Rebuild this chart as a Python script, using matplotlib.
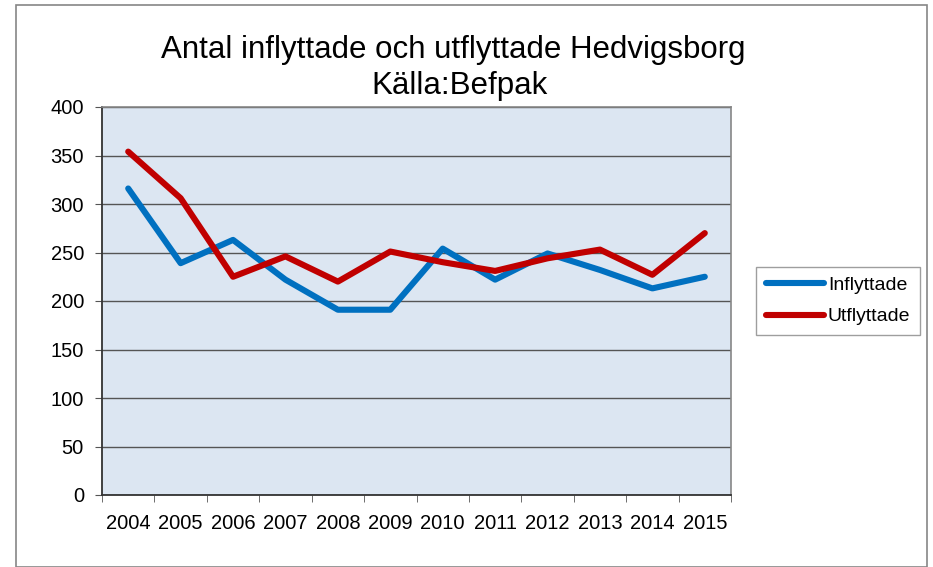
import matplotlib
matplotlib.use("Agg")
import matplotlib.pyplot as plt
from matplotlib.patches import Rectangle
import numpy as np

years = ["2004", "2005", "2006", "2007", "2008", "2009", "2010", "2011", "2012", "2013", "2014", "2015"]
inflyttade = [316, 239, 263, 222, 191, 191, 254, 222, 249, 232, 213, 225]
utflyttade = [354, 306, 225, 246, 220, 251, 240, 231, 244, 253, 227, 270]

plt.rcParams['font.family'] = ['Liberation Sans', 'DejaVu Sans']

fig = plt.figure(figsize=(9.33, 5.67), dpi=100)
fig.patch.set_facecolor('white')
fig.patches.append(Rectangle((16/933, 0), (927-16)/933, (567-5)/567, transform=fig.transFigure,
                             fill=False, edgecolor='#868686', linewidth=1.2))

ax = fig.add_axes([102/933, 72/567, 629/933, 388/567])
ax.set_facecolor('#DCE6F2')
x = np.arange(len(years))
ax.plot(x, inflyttade, color='#0070C0', linewidth=4.4, solid_capstyle='round', label='Inflyttade', zorder=3)
ax.plot(x, utflyttade, color='#C00000', linewidth=4.4, solid_capstyle='round', label='Utflyttade', zorder=3)

ax.set_xlim(-0.5, len(years) - 0.5)
ax.set_ylim(0, 400)
ax.set_yticks(range(0, 401, 50))
ax.yaxis.grid(True, color='#555555', linewidth=1.0)
ax.set_axisbelow(True)
ax.set_xticks(x)
ax.set_xticklabels(years, fontsize=14.5)
ax.tick_params(axis='x', length=0, pad=14)
ax.set_xticks(np.arange(-0.5, len(years), 1), minor=True)
ax.tick_params(axis='x', which='minor', length=5, direction='out', color='#555555')
ax.tick_params(axis='y', labelsize=14.5, length=5, direction='out', color='#555555', pad=8)
for s in ['top', 'right']:
    ax.spines[s].set_color('#868686')
    ax.spines[s].set_linewidth(1.2)
for s in ['left', 'bottom']:
    ax.spines[s].set_color('#333333')
    ax.spines[s].set_linewidth(1.3)

fig.text(453/933, 1 - 50/567, "Antal inflyttade och utflyttade Hedvigsborg",
         ha='center', va='center', fontsize=22.5)
fig.text(460/933, 1 - 86/567, "Källa:Befpak",
         ha='center', va='center', fontsize=22.5)

leg = ax.legend(loc='center left', bbox_to_anchor=(756/933, 1 - 301/567), bbox_transform=fig.transFigure,
                fontsize=14, frameon=True, fancybox=False, edgecolor='#868686', handlelength=3.0,
                borderaxespad=0, borderpad=0.5, labelspacing=0.7, handletextpad=0.2)
leg.get_frame().set_linewidth(1.0)

fig.savefig("out.png", dpi=100)
